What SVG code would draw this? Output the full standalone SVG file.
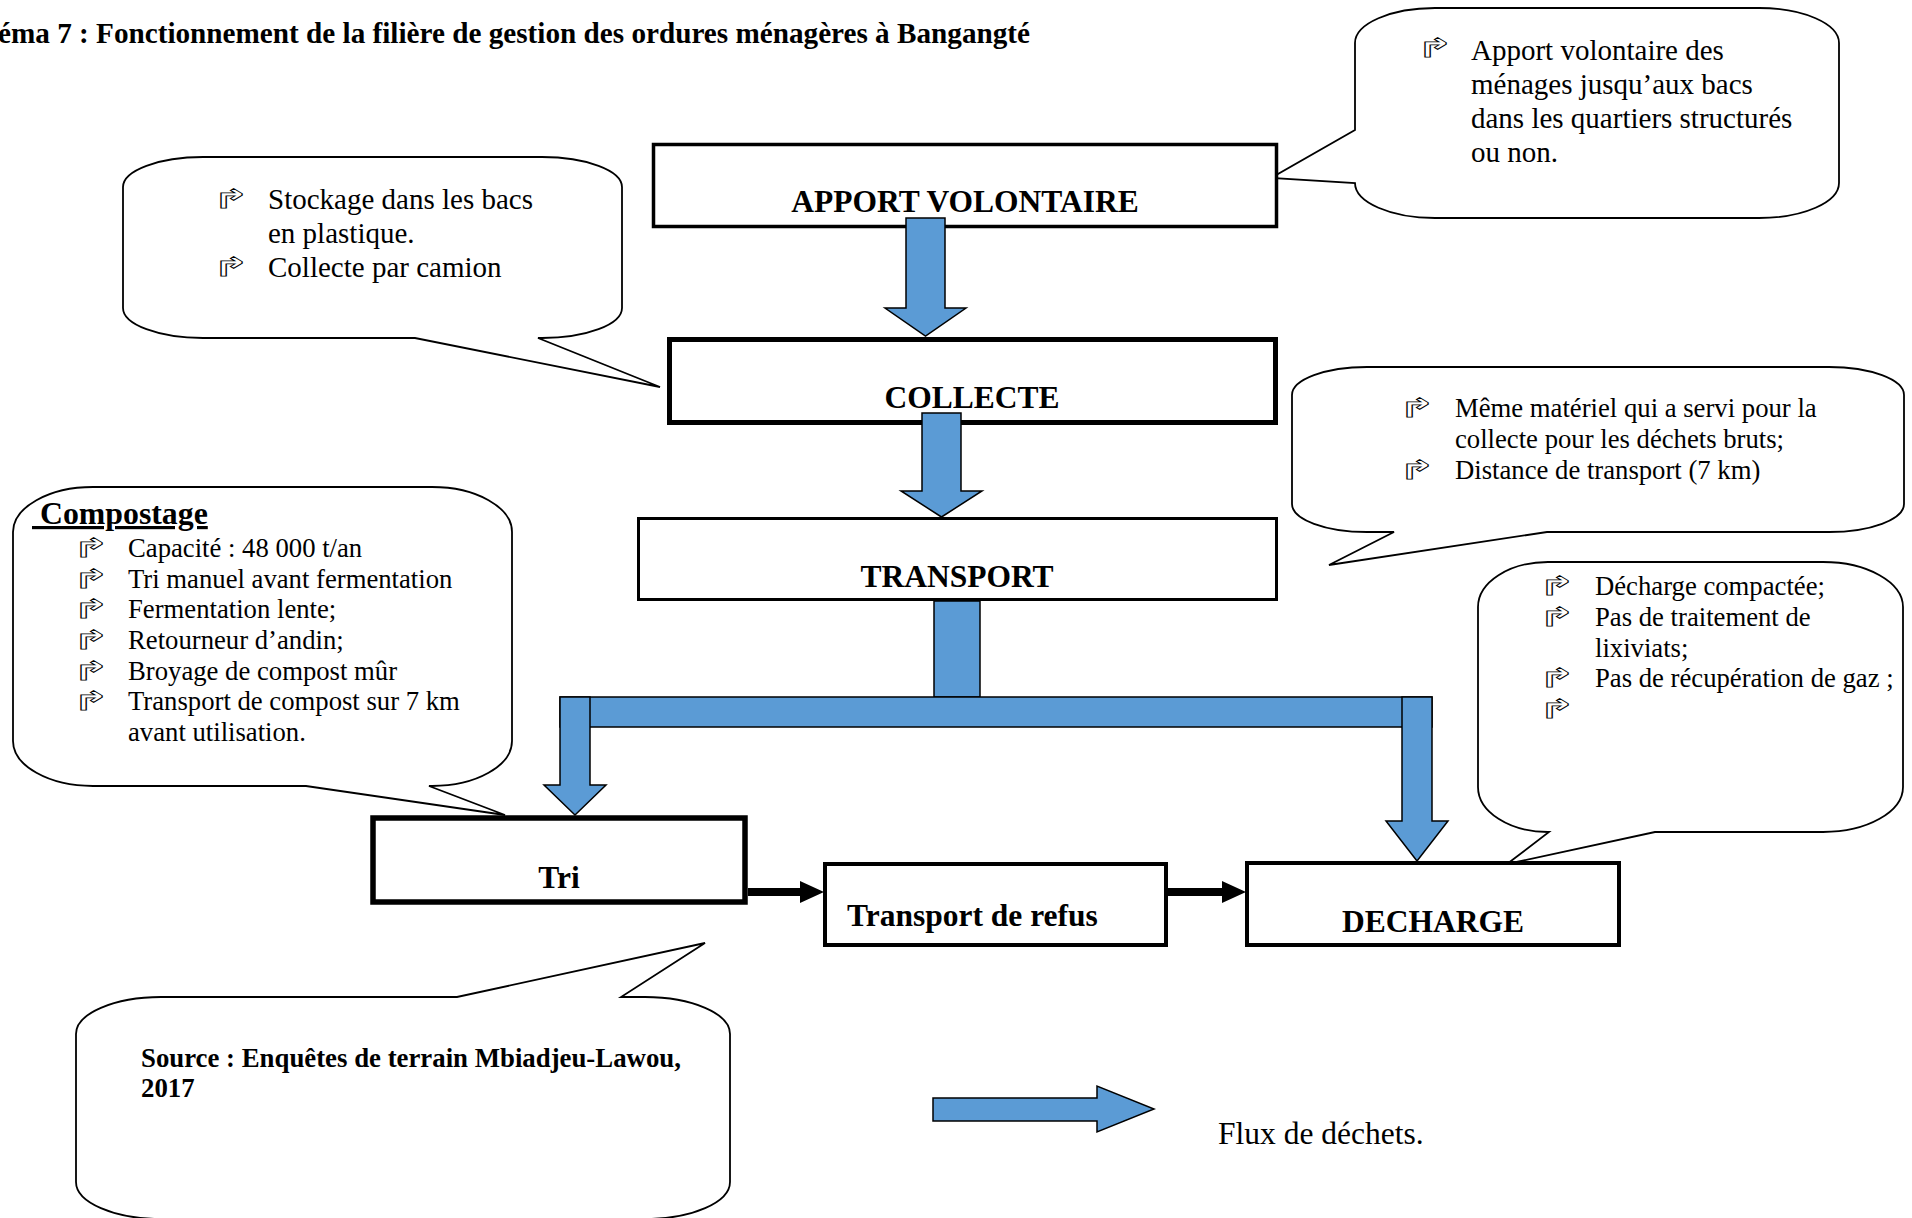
<svg xmlns="http://www.w3.org/2000/svg" width="1912" height="1218" viewBox="0 0 1912 1218">
<style>
.box{fill:#fff;stroke:#000}
.call{fill:#fff;stroke:#000;stroke-width:1.8;stroke-linejoin:miter}
.lbl{font-family:"Liberation Serif","Times New Roman",serif;font-weight:bold;font-size:31.5px;text-anchor:middle;fill:#000}
.title{font-family:"Liberation Serif","Times New Roman",serif;font-weight:bold;font-size:29.2px;fill:#000}
.t29{font-family:"Liberation Serif","Times New Roman",serif;font-size:29px;fill:#000}
.t27{font-family:"Liberation Serif","Times New Roman",serif;font-size:26.7px;fill:#000}
.b27{font-family:"Liberation Serif","Times New Roman",serif;font-size:26.8px;font-weight:bold;fill:#000}
.bul{font-family:"DejaVu Sans",sans-serif;font-size:26px;font-weight:bold;fill:#fff;stroke:#000;stroke-width:0.8;text-anchor:middle}
.flow{fill:#5B9BD5;stroke:#000;stroke-width:1.5;stroke-linejoin:miter}
.blk{fill:#000}
</style>

<text class="title" x="-2" y="43">éma 7 : Fonctionnement de la filière de gestion des ordures ménagères à Bangangté</text>

<!-- callouts -->
<g id="callout-apport">
<path class="call" d="M1435,8 H1759 A80,35 0 0 1 1839,43 V183 A80,35 0 0 1 1759,218 H1435 A80,35 0 0 1 1355,183 L1271,178 L1355,130 V43 A80,35 0 0 1 1435,8 Z"/>
<text class="bul" transform="translate(1435,57) scale(1.7,1)">↱</text>
<text class="t29" x="1471" y="60">Apport volontaire des</text>
<text class="t29" x="1471" y="94">ménages jusqu’aux bacs</text>
<text class="t29" x="1471" y="128">dans les quartiers structurés</text>
<text class="t29" x="1471" y="162">ou non.</text>
</g>

<g id="callout-stockage">
<path class="call" d="M203,157 H542 A80,30 0 0 1 622,187 V308 A80,30 0 0 1 542,338 L538,338 L660,387 L415,338 H203 A80,30 0 0 1 123,308 V187 A80,30 0 0 1 203,157 Z"/>
<text class="bul" transform="translate(231,208) scale(1.7,1)">↱</text>
<text class="t29" x="268" y="209">Stockage dans les bacs</text>
<text class="t29" x="268" y="243">en plastique.</text>
<text class="bul" transform="translate(231,276) scale(1.7,1)">↱</text>
<text class="t29" x="268" y="277">Collecte par camion</text>
</g>

<g id="callout-compostage">
<path class="call" d="M93,487 H432 A80,45 0 0 1 512,532 V741 A80,45 0 0 1 432,786 L429,786 L505,815 L306,786 H93 A80,45 0 0 1 13,741 V532 A80,45 0 0 1 93,487 Z"/>
<text class="lbl" x="32" y="524" style="text-anchor:start;font-size:31.8px;text-decoration:underline;white-space:pre"> Compostage</text>
<text class="bul" transform="translate(91,557) scale(1.7,1)">↱</text>
<text class="t27" x="128" y="557">Capacité : 48 000 t/an</text>
<text class="bul" transform="translate(91,588) scale(1.7,1)">↱</text>
<text class="t27" x="128" y="588">Tri manuel avant fermentation</text>
<text class="bul" transform="translate(91,618) scale(1.7,1)">↱</text>
<text class="t27" x="128" y="618">Fermentation lente;</text>
<text class="bul" transform="translate(91,649) scale(1.7,1)">↱</text>
<text class="t27" x="128" y="649">Retourneur d’andin;</text>
<text class="bul" transform="translate(91,680) scale(1.7,1)">↱</text>
<text class="t27" x="128" y="680">Broyage de compost mûr</text>
<text class="bul" transform="translate(91,710) scale(1.7,1)">↱</text>
<text class="t27" x="128" y="710">Transport de compost sur 7 km</text>
<text class="t27" x="128" y="741">avant utilisation.</text>
</g>

<g id="callout-transport">
<path class="call" d="M1367,367 H1829 A75,28 0 0 1 1904,395 V504 A75,28 0 0 1 1829,532 H1547 L1329,565 L1394,532 H1367 A75,28 0 0 1 1292,504 V395 A75,28 0 0 1 1367,367 Z"/>
<text class="bul" transform="translate(1417,417) scale(1.7,1)">↱</text>
<text class="t27" x="1455" y="417">Même matériel qui a servi pour la</text>
<text class="t27" x="1455" y="448">collecte pour les déchets bruts;</text>
<text class="bul" transform="translate(1417,479) scale(1.7,1)">↱</text>
<text class="t27" x="1455" y="479">Distance de transport (7 km)</text>
</g>

<g id="callout-decharge">
<path class="call" d="M1548,562 H1823 A80,45 0 0 1 1903,607 V787 A80,45 0 0 1 1823,832 H1655 L1507,864 L1549,832 H1548 A70,45 0 0 1 1478,787 V607 A70,45 0 0 1 1548,562 Z"/>
<text class="bul" transform="translate(1557,595) scale(1.7,1)">↱</text>
<text class="t27" x="1595" y="595">Décharge compactée;</text>
<text class="bul" transform="translate(1557,626) scale(1.7,1)">↱</text>
<text class="t27" x="1595" y="626">Pas de traitement de</text>
<text class="t27" x="1595" y="657">lixiviats;</text>
<text class="bul" transform="translate(1557,687) scale(1.7,1)">↱</text>
<text class="t27" x="1595" y="687">Pas de récupération de gaz ;</text>
<text class="bul" transform="translate(1557,718) scale(1.7,1)">↱</text>
</g>

<g id="callout-source">
<path class="call" d="M161,997 H457 L705,943 L621,997 H645 A85,37 0 0 1 730,1034 V1182 A85,37 0 0 1 645,1219 H161 A85,37 0 0 1 76,1182 V1034 A85,37 0 0 1 161,997 Z"/>
<text class="b27" x="141" y="1067">Source : Enquêtes de terrain Mbiadjeu-Lawou,</text>
<text class="b27" x="141" y="1097">2017</text>
</g>

<!-- process boxes -->
<g id="node-apport">
<rect class="box" x="653.5" y="144.5" width="623" height="82" stroke-width="3.5"/>
<text class="lbl" x="965" y="212">APPORT VOLONTAIRE</text>
</g>
<g id="node-collecte">
<rect class="box" x="669.5" y="339.5" width="606" height="83" stroke-width="5"/>
<text class="lbl" x="972" y="408">COLLECTE</text>
</g>
<g id="node-transport">
<rect class="box" x="638.5" y="518.5" width="638" height="81" stroke-width="3"/>
<text class="lbl" x="957" y="587">TRANSPORT</text>
</g>
<g id="node-tri">
<rect class="box" x="373" y="818" width="372" height="84" stroke-width="5.5"/>
<text class="lbl" x="559" y="888">Tri</text>
</g>
<g id="node-refus">
<rect class="box" x="825" y="864" width="341" height="81" stroke-width="4"/>
<text class="lbl" x="847" y="926" style="text-anchor:start">Transport de refus</text>
</g>
<g id="node-decharge">
<rect class="box" x="1247" y="863" width="372" height="82" stroke-width="4"/>
<text class="lbl" x="1433" y="932">DECHARGE</text>
</g>

<!-- connectors -->
<g id="connectors">
<polygon class="flow" points="906,218 945,218 945,308 966,308 925.5,336 885,308 906,308"/>
<polygon class="flow" points="922,413 961,413 961,491 982,491 941.5,517 901,491 922,491"/>
<rect class="flow" x="934" y="601" width="46" height="96"/>
<rect class="flow" x="560" y="697" width="872" height="30"/>
<polygon class="flow" points="560,697 590,697 590,785 606,785 575,815 544,785 560,785"/>
<polygon class="flow" points="1402,697 1432,697 1432,821 1448,821 1417,861 1386,821 1402,821"/>
<path class="blk" d="M748,888 H800 V881 L824,892 L800,903 V896 H748 Z"/>
<path class="blk" d="M1168,888 H1222 V881 L1246,892 L1222,903 V896 H1168 Z"/>
</g>

<!-- legend -->
<g id="legend">
<polygon class="flow" points="933,1098 1097,1098 1097,1086 1154,1109 1097,1132 1097,1121 933,1121"/>
<text class="t29" x="1218" y="1144" style="font-size:31.5px">Flux de déchets.</text>
</g>
</svg>
